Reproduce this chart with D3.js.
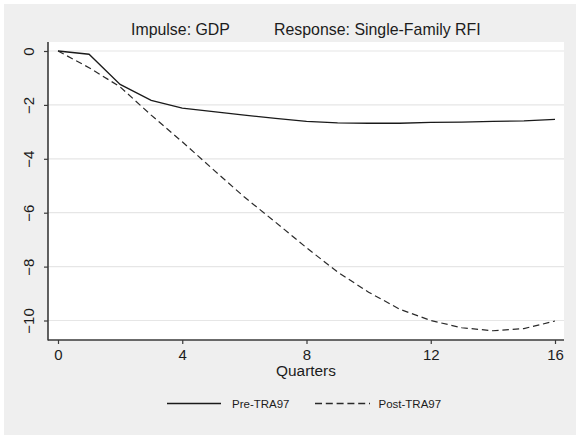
<!DOCTYPE html>
<html>
<head>
<meta charset="utf-8">
<script src="https://cdn.jsdelivr.net/npm/d3@7"></script>
<style>
  html, body { margin: 0; padding: 0; background: #ffffff; }
  svg { display: block; }
  text { font-family: "Liberation Sans", Arial, sans-serif; fill: #1c1c1c; }
</style>
</head>
<body>
<svg id="chart" width="576" height="435"></svg>
<script>
// Impulse response of single-family RFI to a GDP shock, by sample period
const quarters = [0, 1, 2, 3, 4, 5, 6, 7, 8, 9, 10, 11, 12, 13, 14, 15, 16];
const preTRA97 = [0, -0.12, -1.24, -1.83, -2.12, -2.25, -2.38, -2.5, -2.61, -2.67, -2.68, -2.68, -2.65, -2.64, -2.61, -2.59, -2.54];
const postTRA97 = [0, -0.62, -1.33, -2.38, -3.37, -4.4, -5.42, -6.35, -7.3, -8.2, -8.95, -9.58, -10.0, -10.27, -10.38, -10.3, -10.02];
const xTicks = [0, 4, 8, 12, 16];
const yTicks = [0, -2, -4, -6, -8, -10];
const seriesNames = ["Pre-TRA97", "Post-TRA97"];

const svg = d3.select("#chart");

// Page background (light grey panel with a thin white strip top/left)
svg.append("rect").attr("x", 4).attr("y", 4).attr("width", 572).attr("height", 431).attr("fill", "#efefef");

// Plot region
const box = { left: 48, right: 564, top: 42, bottom: 340 };
svg.append("rect")
  .attr("x", box.left).attr("y", box.top)
  .attr("width", box.right - box.left).attr("height", box.bottom - box.top)
  .attr("fill", "#ffffff");

const x = d3.scaleLinear().domain([0, 16]).range([58, 555]);
const y = d3.scaleLinear().domain([0, -10]).range([51, 320.5]);

// Horizontal grid lines
svg.append("g").selectAll("line").data(yTicks).join("line")
  .attr("x1", box.left).attr("x2", box.right)
  .attr("y1", d => y(d)).attr("y2", d => y(d))
  .attr("stroke", "#e6e6e6").attr("stroke-width", 1.2);

// Y axis
const yAxis = svg.append("g").attr("transform", `translate(${box.left},0)`)
  .call(d3.axisLeft(y).tickValues(yTicks).tickSize(4).tickPadding(0).tickFormat(d3.format("d")));
yAxis.select(".domain").remove();
yAxis.append("line").attr("x1", 0).attr("x2", 0).attr("y1", box.top).attr("y2", box.bottom + 0.5)
  .attr("stroke", "#3a3a3a").attr("stroke-width", 1.6);
yAxis.selectAll(".tick line").attr("stroke", "#3a3a3a").attr("stroke-width", 1.2);
yAxis.selectAll(".tick text")
  .attr("x", null).attr("dy", null)
  .attr("text-anchor", "middle")
  .attr("transform", "translate(-14,0) rotate(-90)")
  .attr("font-size", 15)
  .attr("fill", "#1c1c1c")
  .style("font-family", "'Liberation Sans', Arial, sans-serif");

// X axis
const xAxis = svg.append("g").attr("transform", `translate(0,${box.bottom})`)
  .call(d3.axisBottom(x).tickValues(xTicks).tickSize(4).tickPadding(5).tickFormat(d3.format("d")));
xAxis.select(".domain").remove();
xAxis.append("line").attr("x1", box.left).attr("x2", box.right).attr("y1", 0).attr("y2", 0)
  .attr("stroke", "#3a3a3a").attr("stroke-width", 1.5);
xAxis.selectAll(".tick line").attr("stroke", "#3a3a3a").attr("stroke-width", 1.2);
xAxis.selectAll(".tick text")
  .attr("font-size", 15)
  .attr("fill", "#1c1c1c")
  .style("font-family", "'Liberation Sans', Arial, sans-serif");

// Axis title
svg.append("text").attr("x", 306).attr("y", 376).attr("text-anchor", "middle")
  .attr("font-size", 15.4).text("Quarters");

// Chart title
svg.append("text").attr("x", 131).attr("y", 35).attr("font-size", 15.9).text("Impulse: GDP");
svg.append("text").attr("x", 274).attr("y", 35).attr("font-size", 15.9).text("Response: Single-Family RFI");

// Response lines
const line = d3.line().x((d, i) => x(quarters[i])).y(d => y(d));
svg.append("path").datum(preTRA97).attr("d", line)
  .attr("fill", "none").attr("stroke", "#1a1a1a").attr("stroke-width", 1.3);
svg.append("path").datum(postTRA97).attr("d", line)
  .attr("fill", "none").attr("stroke", "#2a2a2a").attr("stroke-width", 1.2)
  .attr("stroke-dasharray", "6.5,3.8");

// Legend
const legend = svg.append("g");
legend.append("line").attr("x1", 167).attr("x2", 221).attr("y1", 403.5).attr("y2", 403.5)
  .attr("stroke", "#1a1a1a").attr("stroke-width", 1.3);
legend.append("text").attr("x", 232).attr("y", 408).attr("font-size", 11.5).text(seriesNames[0]);
legend.append("line").attr("x1", 315).attr("x2", 370).attr("y1", 403.5).attr("y2", 403.5)
  .attr("stroke", "#2a2a2a").attr("stroke-width", 1.3).attr("stroke-dasharray", "7,3.8");
legend.append("text").attr("x", 378.5).attr("y", 408).attr("font-size", 11.5).text(seriesNames[1]);
</script>
</body>
</html>
